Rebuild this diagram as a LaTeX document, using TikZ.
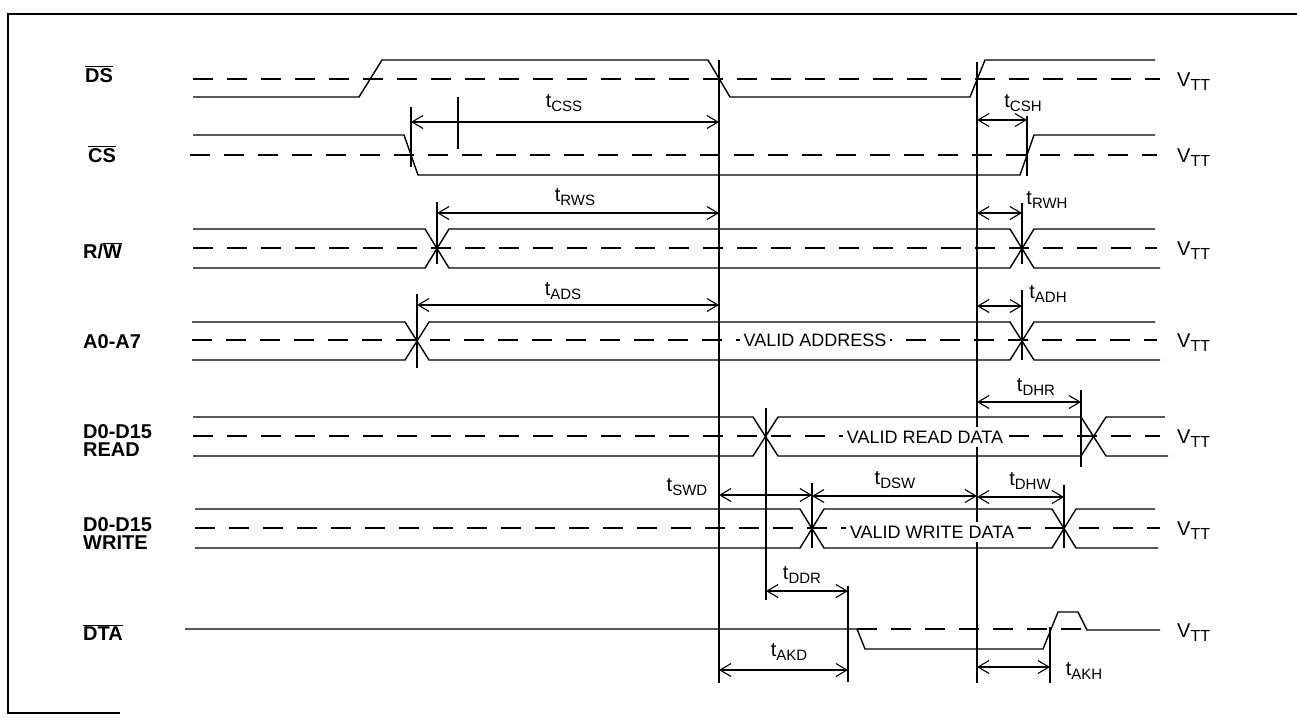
\documentclass[tikz,border=0pt]{standalone}
\usepackage{fontspec}
\setmainfont{Liberation Sans}
\usepackage{tikz}
\usetikzlibrary{arrows.meta}
\newcommand{\tlab}[1]{t\raisebox{-4pt}{\fontsize{15}{15}\selectfont #1}}
\newcommand{\vlab}{V\raisebox{-4pt}{\fontsize{16}{16}\selectfont TT}}
\newcommand{\barred}[1]{$\overline{\mbox{#1}}$}

\begin{document}
\begin{tikzpicture}[x=1pt,y=-1pt,
  sigline/.style={line width=1.4pt},
  vttline/.style={line width=1.3pt,dash pattern=on 20pt off 14pt},
  refline/.style={line width=1.5pt},
  tickline/.style={line width=1.4pt},
  dimarrow/.style={line width=1.1pt,{Straight Barb[length=11pt,width=13pt]}-{Straight Barb[length=11pt,width=13pt]}},
  siglabel/.style={anchor=base west,inner sep=0pt,font=\fontsize{20}{18}\selectfont\bfseries},
  tlabel/.style={inner sep=0pt,font=\fontsize{20}{20}\selectfont},
  vlabel/.style={anchor=west,inner sep=0pt,font=\fontsize{20}{20}\selectfont},
  datalabel/.style={fill=white,inner sep=4pt,font=\fontsize{18}{18}\selectfont}]
\useasboundingbox (0,0) rectangle (1297,724);

% frame
\draw[line width=2.2pt] (1297,14) -- (8,14) -- (8,713) -- (120,713);

% threshold levels
\draw[vttline] (193,79) -- (1160,79);
\draw[vttline] (190,155) -- (1157,155);
\draw[vttline] (193,248) -- (1157,248);
\draw[vttline] (192,340) -- (1157,340);
\draw[vttline] (193,436) -- (1160,436);
\draw[vttline] (195,528) -- (1160,528);
\draw[vttline] (857,629) -- (1087,629);

% waveforms
\draw[sigline] (193,97) -- (359,97) -- (382,60) -- (708,60) -- (730,97) -- (970,97) -- (985,60) -- (1155,60);
\draw[sigline] (193,135) -- (404,135) -- (418,175) -- (1020,175) -- (1034,135) -- (1155,135);
\draw[sigline] (193,229) -- (425,229) -- (449,268) -- (1010,268) -- (1034,229) -- (1155,229);
\draw[sigline] (193,268) -- (425,268) -- (449,229) -- (1010,229) -- (1034,268) -- (1160,268);
\draw[sigline] (192,322) -- (405,322) -- (429,360) -- (1010,360) -- (1034,322) -- (1155,322);
\draw[sigline] (192,360) -- (405,360) -- (429,322) -- (1010,322) -- (1034,360) -- (1160,360);
\draw[sigline] (193,417) -- (753,417) -- (778,456) -- (1081,456) -- (1106,417) -- (1165,417);
\draw[sigline] (193,456) -- (753,456) -- (778,417) -- (1081,417) -- (1106,456) -- (1168,456);
\draw[sigline] (195,509) -- (800,509) -- (824,548) -- (1052,548) -- (1076,509) -- (1155,509);
\draw[sigline] (195,548) -- (800,548) -- (824,509) -- (1052,509) -- (1076,548) -- (1158,548);
\draw[sigline] (185,629) -- (857,629) -- (865,649) -- (1043,649) -- (1058,612) -- (1078,612) -- (1087,630) -- (1160,630);

% reference edges of DS
\draw[refline] (719,60) -- (719,683);
\draw[refline] (977,62) -- (977,683);

% edge markers
\draw[tickline] (411,107) -- (411,167);
\draw[tickline] (458,97) -- (458,149);
\draw[tickline] (1027,116) -- (1027,176);
\draw[tickline] (437,202) -- (437,264);
\draw[tickline] (1022,203) -- (1022,264);
\draw[tickline] (417,294) -- (417,368);
\draw[tickline] (1022,290) -- (1022,360);
\draw[tickline] (766,408) -- (766,600);
\draw[tickline] (1081,390) -- (1081,467);
\draw[tickline] (812,483) -- (812,548);
\draw[tickline] (1064,485) -- (1064,548);
\draw[tickline] (848,586) -- (848,682);
\draw[tickline] (1050,627) -- (1050,683);

% timing points
\coordinate (css1) at (411,122); \coordinate (css2) at (719,122);
\coordinate (csh1) at (977,120); \coordinate (csh2) at (1027,120);
\coordinate (rws1) at (437,213); \coordinate (rws2) at (719,213);
\coordinate (rwh1) at (977,213); \coordinate (rwh2) at (1022,213);
\coordinate (ads1) at (417,305); \coordinate (ads2) at (719,305);
\coordinate (adh1) at (977,306); \coordinate (adh2) at (1022,306);
\coordinate (dhr1) at (977,402); \coordinate (dhr2) at (1081,402);
\coordinate (swd1) at (719,495); \coordinate (swd2) at (812,495);
\coordinate (dsw1) at (812,496); \coordinate (dsw2) at (977,496);
\coordinate (dhw1) at (977,497); \coordinate (dhw2) at (1064,497);
\coordinate (ddr1) at (766,591); \coordinate (ddr2) at (848,591);
\coordinate (akd1) at (719,670); \coordinate (akd2) at (848,670);
\coordinate (akh1) at (977,667); \coordinate (akh2) at (1050,667);

\draw[dimarrow] (css1) -- (css2);
\draw[dimarrow] (csh1) -- (csh2);
\draw[dimarrow] (rws1) -- (rws2);
\draw[dimarrow] (rwh1) -- (rwh2);
\draw[dimarrow] (ads1) -- (ads2);
\draw[dimarrow] (adh1) -- (adh2);
\draw[dimarrow] (dhr1) -- (dhr2);
\draw[dimarrow] (swd1) -- (swd2);
\draw[dimarrow] (dsw1) -- (dsw2);
\draw[dimarrow] (dhw1) -- (dhw2);
\draw[dimarrow] (ddr1) -- (ddr2);
\draw[dimarrow] (akd1) -- (akd2);
\draw[dimarrow] (akh1) -- (akh2);

\node[tlabel] (tcss) at (564,103) {\tlab{CSS}};
\node[tlabel] (tcsh) at (1023,103) {\tlab{CSH}};
\node[tlabel] (trws) at (575,197) {\tlab{RWS}};
\node[tlabel] (trwh) at (1047,200) {\tlab{RWH}};
\node[tlabel] (tads) at (563,291) {\tlab{ADS}};
\node[tlabel] (tadh) at (1048,294) {\tlab{ADH}};
\node[tlabel] (tdhr) at (1036,387) {\tlab{DHR}};
\node[tlabel] (tswd) at (687,487) {\tlab{SWD}};
\node[tlabel] (tdsw) at (895,480) {\tlab{DSW}};
\node[tlabel] (tdhw) at (1030,481) {\tlab{DHW}};
\node[tlabel] (tddr) at (802,575) {\tlab{DDR}};
\node[tlabel] (takd) at (789,652) {\tlab{AKD}};
\node[tlabel] (takh) at (1084,671) {\tlab{AKH}};

% bus contents
\node[datalabel] (addr) at (815,340) {VALID ADDRESS};
\node[datalabel] (rdata) at (925,437) {VALID READ DATA};
\node[datalabel] (wdata) at (932,532) {VALID WRITE DATA};

% signal names
\node[siglabel] (ds) at (85,82) {\barred{DS}};
\node[siglabel] (cs) at (88,162) {\barred{CS}};
\node[siglabel] (rw) at (83,258) {R/\barred{W}};
\node[siglabel] (adr) at (83,348) {A0-A7};
\node[siglabel,anchor=west,align=left] (dread) at (83,441) {D0-D15\\READ};
\node[siglabel,anchor=west,align=left] (dwrite) at (83,534) {D0-D15\\WRITE};
\node[siglabel] (dta) at (83,640) {\barred{DTA}};

\node[vlabel] (v1) at (1177,82) {\vlab};
\node[vlabel] (v2) at (1177,158) {\vlab};
\node[vlabel] (v3) at (1177,251) {\vlab};
\node[vlabel] (v4) at (1177,343) {\vlab};
\node[vlabel] (v5) at (1177,439) {\vlab};
\node[vlabel] (v6) at (1177,531) {\vlab};
\node[vlabel] (v7) at (1177,633) {\vlab};
\end{tikzpicture}
\end{document}
